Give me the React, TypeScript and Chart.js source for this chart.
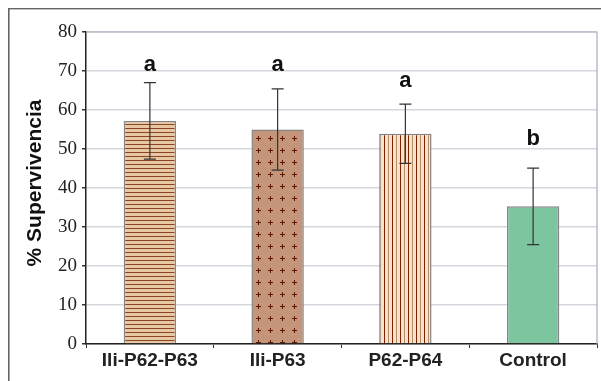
import React, { useEffect, useRef } from "react";
import { Chart, registerables } from "chart.js";

Chart.register(...registerables);

const categories = ["Ili-P62-P63", "Ili-P63", "P62-P64", "Control"];
const survival = [57.2, 55.0, 53.9, 35.3];
const errors = [9.8, 10.4, 7.6, 9.8];
const letters = ["a", "a", "a", "b"];
const letterPos = [71.5, 71.5, 67.4, 52.7];
const yTitle = "% Supervivencia";
const yMin = 0;
const yMax = 80;
const yStep = 10;

function makePattern(kind: number): CanvasPattern | string {
  const c = document.createElement("canvas");
  const x = c.getContext("2d")!;
  if (kind === 0) {
    c.width = 4; c.height = 4;
    x.fillStyle = "#e8c8a2"; x.fillRect(0, 0, 4, 4);
    x.fillStyle = "#8a4526"; x.fillRect(0, 0, 4, 1);
  } else if (kind === 1) {
    c.width = 12; c.height = 12;
    x.fillStyle = "#c4957a"; x.fillRect(0, 0, 12, 12);
    x.fillStyle = "#5e1800";
    x.fillRect(4, 6, 5, 1);
    x.fillRect(6, 4, 1, 5);
  } else if (kind === 2) {
    c.width = 8; c.height = 4;
    x.fillStyle = "#f7e3c9"; x.fillRect(0, 0, 8, 4);
    x.fillStyle = "#7e2200"; x.fillRect(0, 0, 1, 4);
    x.fillStyle = "#b98a6c"; x.fillRect(4, 0, 1, 4);
  } else {
    return "#7cc59e";
  }
  return x.createPattern(c, "repeat")!;
}

const framePlugin = {
  id: "frame",
  beforeDraw(chart: any) {
    const ctx = chart.ctx;
    ctx.save();
    ctx.fillStyle = "#666";
    ctx.fillRect(8, 8, 1.6, chart.height - 8);
    ctx.fillRect(8, 8, chart.width - 8, 1.4);
    ctx.restore();
  },
  afterDraw(chart: any) {
    const ctx = chart.ctx;
    const a = chart.chartArea;
    ctx.save();
    ctx.strokeStyle = "#a6aebe";
    ctx.lineWidth = 1.2;
    ctx.beginPath();
    ctx.moveTo(a.left, a.top);
    ctx.lineTo(a.right, a.top);
    ctx.lineTo(a.right, a.bottom);
    ctx.stroke();
    // y-axis title
    ctx.translate(35, (a.top + a.bottom) / 2 - 5);
    ctx.rotate(-Math.PI / 2);
    ctx.fillStyle = "#111";
    ctx.font = "bold 21px 'Liberation Sans', Arial, sans-serif";
    ctx.textAlign = "center";
    ctx.textBaseline = "middle";
    ctx.fillText(yTitle, 0, 0);
    ctx.restore();
  },
};

const errorPlugin = {
  id: "errs",
  afterDatasetsDraw(chart: any) {
    const ctx = chart.ctx;
    const meta = chart.getDatasetMeta(0);
    const y = chart.scales.y;
    ctx.save();
    ctx.strokeStyle = "#333";
    ctx.lineWidth = 1.2;
    meta.data.forEach((bar: any, i: number) => {
      const cx = bar.x;
      const top = y.getPixelForValue(survival[i] + errors[i]);
      const bot = y.getPixelForValue(survival[i] - errors[i]);
      ctx.beginPath();
      ctx.moveTo(cx, top); ctx.lineTo(cx, bot);
      ctx.moveTo(cx - 6, top); ctx.lineTo(cx + 6, top);
      ctx.moveTo(cx - 6, bot); ctx.lineTo(cx + 6, bot);
      ctx.stroke();
    });
    ctx.fillStyle = "#111";
    ctx.font = "bold 22px 'Liberation Sans', Arial, sans-serif";
    ctx.textAlign = "center";
    ctx.textBaseline = "middle";
    meta.data.forEach((bar: any, i: number) => {
      ctx.fillText(letters[i], bar.x, y.getPixelForValue(letterPos[i]));
    });
    ctx.restore();
  },
};

export default function App() {
  const ref = useRef<HTMLCanvasElement>(null);
  useEffect(() => {
    const chart = new Chart(ref.current!, {
      type: "bar",
      data: {
        labels: categories,
        datasets: [
          {
            data: survival,
            backgroundColor: [0, 1, 2, 3].map(makePattern) as any,
            borderColor: "#858585",
            borderWidth: 1.5,
            barPercentage: 0.41,
            categoryPercentage: 1,
          },
        ],
      },
      options: {
        animation: false,
        responsive: false,
        devicePixelRatio: 1,
        layout: { padding: { top: 32, right: 4, left: 0, bottom: 0 } },
        plugins: { legend: { display: false }, tooltip: { enabled: false } },
        scales: {
          x: {
            afterFit: (s: any) => { s.height = 37; },
            grid: { drawOnChartArea: false, drawTicks: true, tickLength: 4, color: "#333", offset: true },
            border: { color: "#222", width: 1.5 },
            ticks: {
              color: "#222",
              padding: 1,
              font: { family: "'Liberation Sans', Arial, sans-serif", size: 19, weight: "bold" },
            },
          },
          y: {
            min: yMin,
            max: yMax,
            afterFit: (s: any) => { s.width = 86; },
            ticks: {
              stepSize: yStep,
              color: "#222",
              padding: 5,
              font: { family: "'Liberation Serif', 'Times New Roman', serif", size: 19 },
            },
            grid: { color: "#d6d6de", lineWidth: 1.5, tickLength: 4, tickColor: "#333", drawTicks: true },
            border: { color: "#222", width: 1.5 },
          },
        },
      },
      plugins: [framePlugin, errorPlugin],
    });
    return () => chart.destroy();
  }, []);
  return (
    <div style={{ position: "fixed", left: 0, top: 0, width: 601, height: 381, background: "#fff" }}>
      <canvas ref={ref} width={601} height={381} style={{ display: "block" }} />
    </div>
  );
}
